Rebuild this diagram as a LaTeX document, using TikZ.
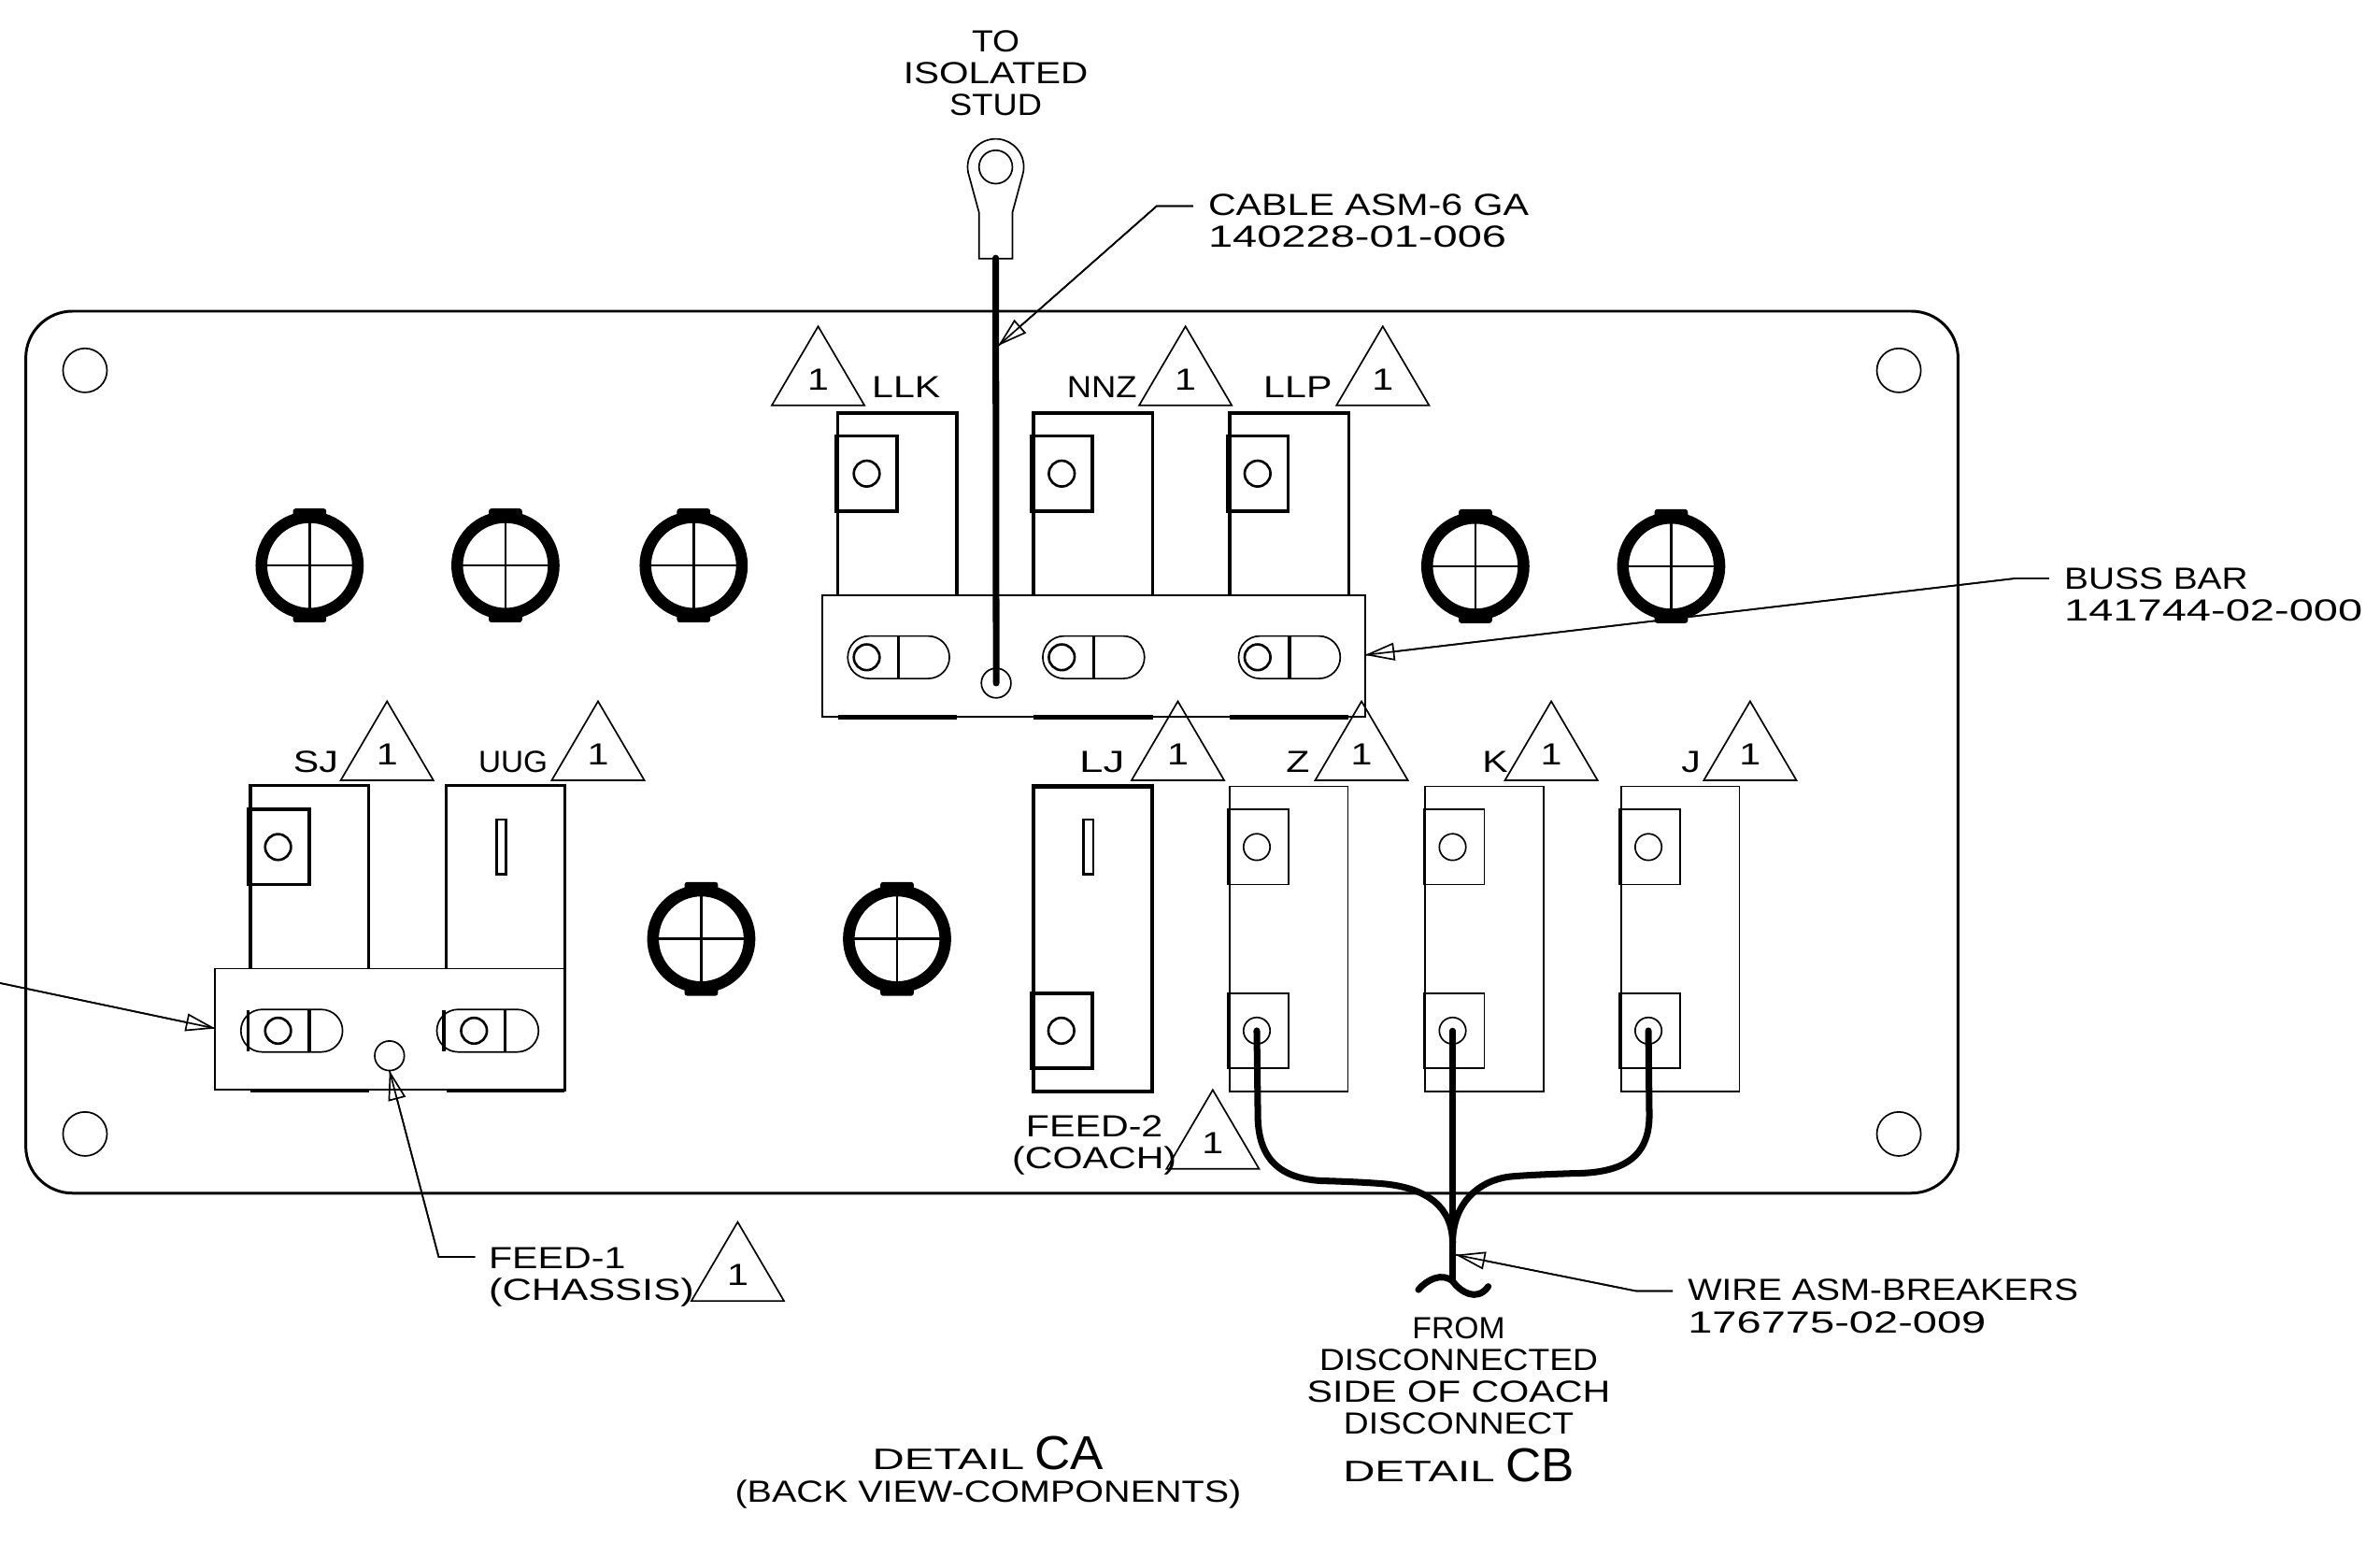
\documentclass[tikz,border=0pt]{standalone}
\usepackage{fontspec}
\setmainfont{Liberation Sans}[FakeStretch=1.26]
\newfontfamily\detailfont{Liberation Sans}[FakeStretch=1.5]
\newfontfamily\capfont{Liberation Sans}[FakeStretch=1.04]
\newcommand{\st}[2]{{\addfontfeature{FakeStretch=#1}#2}}
\usepackage{tikz}
\usetikzlibrary{shapes, shapes.geometric, shapes.misc, arrows.meta, positioning}
\def\du{0.016244cm}
\tikzset{
  hair/.style={line width=.48pt},
  heavy/.style={line width=1pt},
  cable/.style={line width=2pt, line cap=round},
  ldr/.style={hair, -{Triangle[open,length=9pt,width=5.4pt]}, postaction={draw,-}},
  every node/.style={inner sep=0pt, outer sep=0pt, font=\fontsize{9.3}{9.7}\selectfont},
  tagmark/.style={isosceles triangle, draw, hair, shape border rotate=90, isosceles triangle stretches, minimum width=61*\du, minimum height=52*\du, anchor=apex},
  grommet/.style={circle, draw, line width=3.55pt, minimum size=63.6*\du},
  hole/.style={circle, draw, hair, minimum size=29*\du},
  boltbold/.style={circle, draw, line width=.75pt, minimum size=17*\du},
  boltthin/.style={circle, draw, hair, minimum size=17.5*\du},
  clipbold/.style={rectangle, draw, heavy, minimum width=40*\du, minimum height=49.5*\du},
  clipthin/.style={rectangle, draw, hair, minimum width=40*\du, minimum height=49.5*\du},
  slot/.style={rounded rectangle, draw, hair, minimum width=67*\du, minimum height=28*\du},
  slit/.style={rectangle, draw, line width=.75pt, minimum width=6.5*\du, minimum height=36*\du},
  studhole/.style={circle, draw, hair, minimum size=19.5*\du},
}
\begin{document}
\begin{tikzpicture}[x=\du, y=-\du]
\useasboundingbox (0,0) rectangle (1568,1014.6);
% panel
\draw[line width=.85pt, rounded corners=.5cm] (17,205) rectangle (1290,786);
\foreach \nm/\x/\y in {holeA/56/244, holeB/1251/244, holeC/56/747, holeD/1251/747}
  \node[hole] (\nm) at (\x,\y) {};
% grommets
\foreach \nm/\x/\y in {gA/204/372.5, gB/333/372.5, gC/457/372.5, gD/972/373, gE/1101/373, gF/462/618.5, gG/591/618.5} {
  \node[grommet] (\nm) at (\x,\y) {};
  \fill[rounded corners=.8pt] ({\x-11},{\y-37.5}) rectangle ({\x+11},{\y-29});
  \fill[rounded corners=.8pt] ({\x-11},{\y+37.5}) rectangle ({\x+11},{\y+29});
  \draw[line width=.75pt] ({\x-29},\y) -- ({\x+29},\y) (\x,{\y-29}) -- (\x,{\y+29});
}
% top breakers
\foreach \x in {552,681,810} {
  \draw[heavy] (\x,392) -- (\x,272) -- ({\x+78.5},272) -- ({\x+78.5},392);
  \draw[heavy, line width=1.2pt] (\x,472.5) -- ({\x+78.5},472.5);
}
\draw[hair] (541.7,392) rectangle (899.3,472);
\foreach \nm/\x in {llk/571, nnz/699.5, llp/828.5} {
  \node[clipbold] (c\nm) at (\x,312) {};
  \node[boltbold] (b\nm) at (\x,312) {};
  \node[slot] (s\nm) at ({\x+21},433) {};
  \draw[heavy] ({\x+21},419) -- ({\x+21},447);
  \node[boltbold] (t\nm) at (\x,433) {};
}
% lower left breakers
\draw[heavy] (165,638) -- (165,517.5) -- (243,517.5) -- (243,638);
\draw[heavy] (294,638) -- (294,517.5) -- (372,517.5) -- (372,719);
\draw[heavy, line width=1.2pt] (165,718.5) -- (243,718.5) (294,718.5) -- (372,718.5);
\draw[hair] (141.8,638) rectangle (371.5,718);
\node[clipbold] (csj) at (183.8,558) {};
\node[boltbold] (bsj) at (183.2,558) {};
\node[slit] (suug) at (330.3,558) {};
\foreach \nm/\x in {sj/183.2, uug/312.3} {
  \node[slot] (s\nm) at ({\x+9},679) {};
  \draw[heavy] ({\x+20.5},665) -- ({\x+20.5},693) ({\x-19.8},665.5) -- ({\x-19.8},692.5);
  \node[boltbold] (t\nm) at (\x,679) {};
}
\node[studhole] (feedA) at (256.6,695.5) {};
% coach feed breaker
\draw[heavy, line width=1.2pt] (681,518) rectangle (759,719);
\node[slit] (slj) at (717,558) {};
\node[clipbold] (clj) at (699.8,679) {};
\node[boltbold] (blj) at (699.2,679) {};
% thin breakers
\foreach \nm/\x in {z/810, k/939, j/1068} {
  \draw[hair] (\x,518) rectangle ({\x+78},719);
  \node[clipthin] (u\nm) at ({\x+19},558) {};
  \node[boltthin] (a\nm) at ({\x+18},558) {};
  \node[clipthin] (l\nm) at ({\x+19},679) {};
  \node[boltthin] (h\nm) at ({\x+18},679) {};
}
% delta marks
\foreach \nm/\x/\y in {tllk/539/215, tnnz/781/215, tllp/911/215, tsj/255/462, tuug/394/462, tlj/776/462, tz/897/462, tk/1022/462, tj/1153/462, tfa/486/805, tfb/799/718}
  \node[tagmark] (\nm) at (\x,\y) {\raisebox{.7pt}[6.6pt][0pt]{1}};
% breaker names
\foreach \txt/\fw/\x/\y in {LLK/1.26/597/255, NNZ/1.115/726/255, LLP/1.26/855/255, SJ/1.26/208/502, UUG/1.02/338/502, LJ/1.4/726/502, Z/1.26/855/502, K/1.26/985/502, J/1.26/1114/502}
  \node (n\txt) at (\x,\y) {\st{\fw}{\txt}};
% lug and cable
\node[circle, draw, hair, minimum size=22*\du] (lughole) at (656,110) {};
\draw[hair] (645,170.4) -- (645,140) -- (638.3,115.4) arc[start angle=163, end angle=377, radius=18.5] -- (667,140) -- (667,170.4) -- cycle;
\coordinate (lugtail) at (656,170);
\node[studhole] (stud) at (656.3,450) {};
\draw[cable] (lugtail) -- (stud.center);
% branch wires
\coordinate (jct) at (957,819);
\coordinate (wiretail) at (957,844);
\draw[cable] (hz.center) -- (828.7,734.6) .. controls (828.7,765) and (845,778) .. (876,778)
  .. controls (890,778.5) and (902,779) .. (913,780) .. controls (940,783) and (957,795) .. (jct);
\draw[cable] (hj.center) -- (1086.6,734.6) .. controls (1086.6,762) and (1070,773) .. (1036,773)
  .. controls (1022,773.5) and (1008,774) .. (996,775) .. controls (975,777) and (957,792) .. (jct);
\draw[cable, line width=1.8pt] (hk.center) -- (jct) -- (wiretail);
\draw[cable] (934.5,849.6) .. controls (940,843) and (950,838) .. (wiretail) .. controls (962,851) and (973,858) .. (980.5,847.5);
% call-outs
\node[align=center] (tostud) at (656,48) {\st{1.14}{TO}\\\st{1.24}{ISOLATED}\\\st{1.11}{STUD}};
\node[align=left, anchor=west] (cablelbl) at (796,145.6) {CABLE ASM-6 GA\\\st{1.44}{140228-01-006}};
\node[align=left, anchor=west] (busslbl) at (1360,391.5) {\st{1.19}{BUSS BAR}\\\st{1.44}{141744-02-000}};
\node[align=left, anchor=west] (feedAlbl) at (322,841.5) {FEED-1\\\st{1.33}{(CHASSIS)}};
\node[align=center] (feedBlbl) at (721,754.5) {FEED-2\\(COACH)};
\node[align=left, anchor=west] (wirelbl) at (1112,860.5) {\st{1.18}{WIRE ASM-BREAKERS}\\\st{1.44}{176775-02-009}};
\node[align=center] (fromlbl) at (961,906.5) {\st{1.03}{FROM}\\\st{1.14}{DISCONNECTED}\\SIDE OF COACH\\\st{1.14}{DISCONNECT}};
\node (detA) at (651,957.5) {{\detailfont\fontsize{9}{9}\selectfont DETAIL} {\capfont\fontsize{14.5}{15}\selectfont CA}};
\node[below=3pt of detA, font=\fontsize{9.3}{9.7}\selectfont\addfontfeature{FakeStretch=1.21}] (backlbl) {(BACK VIEW-COMPONENTS)};
\node (detB) at (961,965.5) {{\detailfont\fontsize{9}{9}\selectfont DETAIL} {\capfont\fontsize{14.5}{15}\selectfont CB}};
% leaders
\coordinate (cableelbow) at (762,135.8);
\coordinate (cabletip) at (657.6,227.8);
\coordinate (busselbow) at (1328,381);
\coordinate (busstip) at (899.3,431.5);
\coordinate (leftfree) at (0,647.6);
\coordinate (lefttip) at (141.8,677.5);
\coordinate (feedelbow) at (289,828);
\coordinate (wireelbow) at (1078,850.5);
\coordinate (wiretip) at (959,826.6);
\draw[ldr] (786,135.8) -- (cableelbow) -- (cabletip);
\draw[ldr] (1350,381) -- (busselbow) -- (busstip);
\draw[ldr] (leftfree) -- (lefttip);
\draw[ldr] (313,828) -- (feedelbow) -- (feedA.south);
\draw[ldr] (1102,850.5) -- (wireelbow) -- (wiretip);
\end{tikzpicture}
\end{document}
